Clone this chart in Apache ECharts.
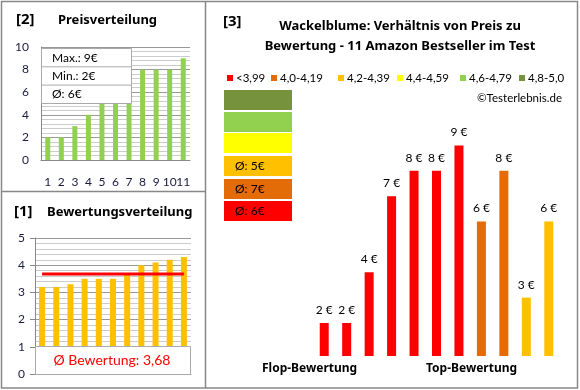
<!DOCTYPE html>
<html><head><meta charset="utf-8">
<script src="https://cdn.jsdelivr.net/npm/echarts@6/dist/echarts.min.js"></script>
<style>html,body{margin:0;padding:0;background:#fff}#c{width:580px;height:390px}</style>
</head><body><div id="c"></div>
<script>
// ---- data ----
const priceCats = ['1','2','3','4','5','6','7','8','9','10','11'];
const priceSorted = [2,2,3,4,5,5,7,8,8,8,9];
const ratingSorted = [3.2,3.2,3.3,3.5,3.5,3.5,3.7,4.0,4.1,4.2,4.3];
const ratingAvgLine = [3.68,3.68,3.68,3.68,3.68,3.68,3.68,3.68,3.68,3.68,3.68];
const ratingAvgText = 'Ø Bewertung: 3,68';
const priceBoxTexts = ['Max.: 9€','Min.: 2€','Ø: 6€'];
const mainPrices = [2,2,4,7,8,8,9,6,8,3,6];
const mainColorIdx = [0,0,0,0,0,0,0,1,1,2,2];
const legendNames = ['<3,99','4,0-4,19','4,2-4,39','4,4-4,59','4,6-4,79','4,8-5,0'];
const legendColors = ['#FF0000','#E36C09','#FFC000','#FFFF00','#92D050','#76923C'];
const groupAvgTexts = ['', '', '', 'Ø: 5€', 'Ø: 7€', 'Ø: 6€'];
const groupBoxColors = ['#76923C','#92D050','#FFFF00','#FFC000','#E36C09','#FF0000'];

const FF = 'Lato, "Noto Sans", sans-serif';
const FB = '"Noto Sans", "Open Sans", sans-serif';
const chart = echarts.init(document.getElementById('c'), null, {renderer:'canvas'});

const g = [];
// frame
g.push({type:'rect', shape:{x:1.5,y:1.5,width:576,height:386.5}, style:{fill:'none',stroke:'#888',lineWidth:1.5}, z:100});
g.push({type:'line', shape:{x1:205.5,y1:1,x2:205.5,y2:388}, style:{stroke:'#888',lineWidth:1.5}, z:100});
g.push({type:'line', shape:{x1:1,y1:191.5,x2:205,y2:191.5}, style:{stroke:'#888',lineWidth:1.5}, z:100});
// titles
function txt(x,y,t,opt){ g.push(Object.assign({type:'text', x:x, y:y, style:Object.assign({text:t, font:'bold 13px '+FB, fill:'#000', textVerticalAlign:'middle'}, opt||{}) , z:50})); }
txt(16,20,'[2]',{font:'bold 15px '+FB});
txt(58,20,'Preisverteilung');
txt(14,212,'[1]',{font:'bold 15px '+FB});
txt(47,212,'Bewertungsverteilung');
txt(223,22,'[3]',{font:'bold 15px '+FB});
txt(400,26,'Wackelblume: Verhältnis von Preis zu',{textAlign:'center', font:'bold 13px '+FB});
txt(400,46,'Bewertung - 11 Amazon Bestseller im Test',{textAlign:'center', font:'bold 13px '+FB});
txt(562,98,'©Testerlebnis.de',{textAlign:'right', font:'11.5px '+FF});
txt(262,369,'Flop-Bewertung',{font:'bold 12px '+FB});
txt(426,369,'Top-Bewertung',{font:'bold 12px '+FB});
// price info box
g.push({type:'rect', shape:{x:41.5,y:48.5,width:90,height:55}, style:{fill:'#fff',stroke:'#aaa',lineWidth:1}, z:40});
for (let i=0;i<priceBoxTexts.length;i++){
  if(i>0) g.push({type:'line', shape:{x1:41.5,y1:48.5+i*18.3,x2:131.5,y2:48.5+i*18.3}, style:{stroke:'#aaa',lineWidth:1}, z:41});
  txt(52,58+i*18.3,priceBoxTexts[i],{font:'12px '+FF, fill:'#000'});
}
// rating box
g.push({type:'rect', shape:{x:35.5,y:346.5,width:155,height:28}, style:{fill:'#fff',stroke:'#aaa',lineWidth:1}, z:40});
txt(112,360,ratingAvgText,{textAlign:'center', font:'14px '+FF, fill:'#FF0000'});
// legend row
const legX = [227,271,338,397,460,519];
for (let i=0;i<legendNames.length;i++){
  g.push({type:'rect', shape:{x:legX[i],y:75,width:6,height:6}, style:{fill:legendColors[i]}, z:50});
  txt(legX[i]+9,78.5,legendNames[i],{font:'11.5px '+FF});
}
// group boxes
const boxY = [90,112,133,156,179,201];
for (let i=0;i<groupBoxColors.length;i++){
  g.push({type:'rect', shape:{x:224,y:boxY[i],width:68,height:20}, style:{fill:groupBoxColors[i]}, z:30});
  if (groupAvgTexts[i]) txt(235,boxY[i]+10.5,groupAvgTexts[i],{font:'12px '+FF});
}

const option = {
  animation:false,
  textStyle:{fontFamily:FF},
  grid:[
    {left:41,top:47,width:149,height:113},
    {left:35,top:238,width:156,height:136},
    {left:313,top:120,width:247,height:236}
  ],
  xAxis:[
    {gridIndex:0,type:'category',data:priceCats,axisTick:{show:false},
     axisLine:{lineStyle:{color:'#888'}},axisLabel:{color:'#1a1a40',fontSize:12,margin:16,interval:0}},
    {gridIndex:1,type:'category',data:priceCats,axisTick:{show:false},axisLabel:{show:false},
     axisLine:{lineStyle:{color:'#888'}}},
    {gridIndex:2,type:'category',data:priceCats,show:false}
  ],
  yAxis:[
    {gridIndex:0,type:'value',min:0,max:10,interval:2,
     axisLine:{show:true,lineStyle:{color:'#888'}},axisTick:{show:false},
     axisLabel:{color:'#1a1a40',fontSize:12,margin:12},
     splitLine:{lineStyle:{color:'#999'}},
     minorTick:{show:false,splitNumber:5},minorSplitLine:{show:true,lineStyle:{color:'#ccc'}}},
    {gridIndex:1,type:'value',min:0,max:5,interval:1,
     axisLine:{show:true,lineStyle:{color:'#888'}},axisTick:{show:true,length:5,lineStyle:{color:'#888'}},
     axisLabel:{color:'#1a1a40',fontSize:12,margin:10},
     splitLine:{lineStyle:{color:'#999'}},
     minorTick:{show:false,splitNumber:5},minorSplitLine:{show:true,lineStyle:{color:'#ccc'}}},
    {gridIndex:2,type:'value',min:0.7,max:10,show:false,splitLine:{show:false}}
  ],
  series:[
    {type:'bar',xAxisIndex:0,yAxisIndex:0,data:priceSorted,barWidth:5,itemStyle:{color:'#92D050'},z:2},
    {type:'bar',xAxisIndex:1,yAxisIndex:1,data:ratingSorted,barWidth:6,itemStyle:{color:'#FFC000'},z:2},
    {type:'line',xAxisIndex:1,yAxisIndex:1,data:ratingAvgLine,symbol:'none',lineStyle:{color:'#FF0000',width:3},z:3},
    {type:'bar',xAxisIndex:2,yAxisIndex:2,barWidth:9,
     data:mainPrices.map((v,i)=>({value:v,itemStyle:{color:legendColors[mainColorIdx[i]]}})),
     label:{show:true,position:'top',distance:7,formatter:p=>p.value+' €',color:'#000',fontSize:12,fontFamily:FF}}
  ],
  graphic:g
};
chart.setOption(option);
</script></body></html>
